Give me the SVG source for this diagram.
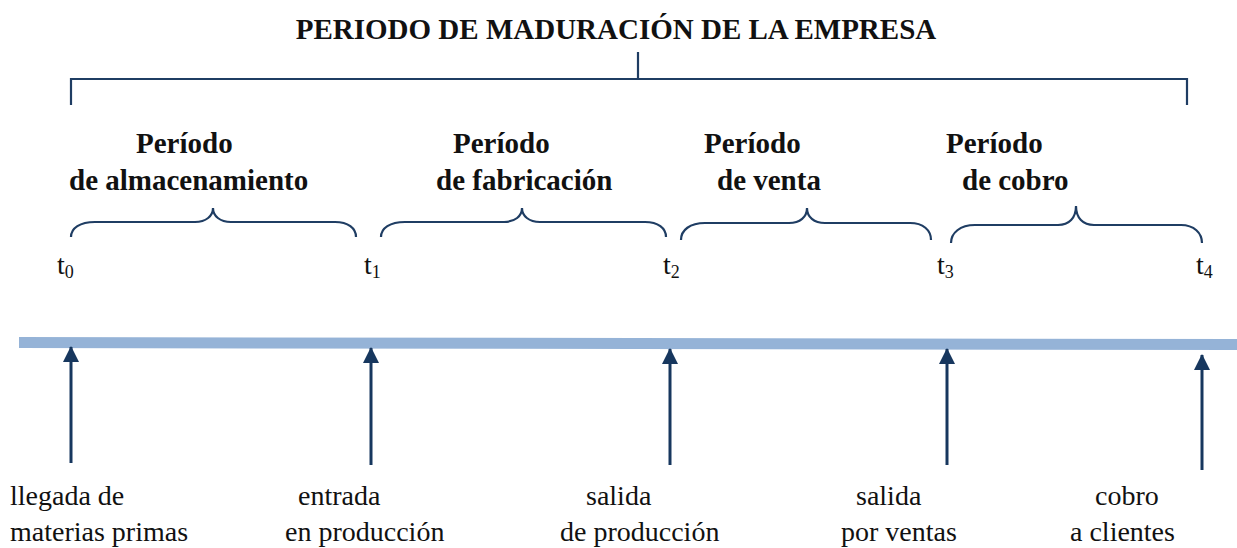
<svg xmlns="http://www.w3.org/2000/svg" width="1237" height="548" viewBox="0 0 1237 548">
<defs>
<style>
.t{font-family:"Liberation Serif","DejaVu Serif",serif;fill:#111;}
.h{font-size:29px;font-weight:bold;}
.b{font-size:29px;font-weight:bold;}
.r{font-size:28px;}
.s{font-size:18px;}
.ln{fill:none;stroke:#1f3d63;stroke-width:2.2;}
.ar{stroke:#17375e;stroke-width:3;fill:none;}
</style>
<marker id="ah" viewBox="0 0 16 16" refX="15" refY="8" markerWidth="16" markerHeight="16" markerUnits="userSpaceOnUse" orient="auto">
<path d="M0,0 L16,8 L0,16 Z" fill="#17375e"/>
</marker>
</defs>
<rect width="1237" height="548" fill="#fff"/>
<g id="title">
<text class="t h" x="616" y="39" text-anchor="middle">PERIODO DE MADURACIÓN DE LA EMPRESA</text>
<path class="ln" d="M71,105 V79 H1187 V105 M638,79 V52"/>
</g>
<g id="timeline">
<polygon points="19,337 1237,339 1237,350 19,348" fill="#95b3d7"/>
</g>
<g id="p1">
<text class="t b" x="136" y="153">Período</text>
<text class="t b" x="69" y="190">de almacenamiento</text>
<path class="ln" d="M71,237 C71,228 80,222 95,222 H195 C206,222 213,216 213,208 C213,216 220,222 231,222 H335 C348,222 356,228 356,237"/>
</g>
<g id="p2">
<text class="t b" x="453" y="153">Período</text>
<text class="t b" x="436" y="190">de fabricación</text>
<path class="ln" d="M381,237 C381,228 390,222 405,222 H504 C515,222 522,216 522,208 C522,216 529,222 540,222 H645 C658,222 666,228 666,237"/>
</g>
<g id="p3">
<text class="t b" x="704" y="153">Período</text>
<text class="t b" x="717" y="190">de venta</text>
<path class="ln" d="M681,240 C681,230 690,223 705,223 H789 C800,223 807,217 807,208 C807,217 814,223 825,223 H910 C923,223 931,230 931,240"/>
</g>
<g id="p4">
<text class="t b" x="946" y="153">Período</text>
<text class="t b" x="962" y="190">de cobro</text>
<path class="ln" d="M951,243 C951,233 960,225 975,225 H1058 C1069,225 1076,218 1076,206 C1076,218 1083,225 1094,225 H1181 C1194,225 1202,233 1202,243"/>
</g>
<g id="ticks">
<text class="t r" x="57" y="274">t<tspan class="s" dy="4">0</tspan></text>
<text class="t r" x="364" y="274">t<tspan class="s" dy="4">1</tspan></text>
<text class="t r" x="663" y="274">t<tspan class="s" dy="4">2</tspan></text>
<text class="t r" x="937" y="274">t<tspan class="s" dy="4">3</tspan></text>
<text class="t r" x="1196" y="274">t<tspan class="s" dy="4">4</tspan></text>
</g>
<g id="connectors">
<line class="ar" x1="71" y1="463" x2="71" y2="347" marker-end="url(#ah)"/>
<line class="ar" x1="371" y1="465" x2="371" y2="348" marker-end="url(#ah)"/>
<line class="ar" x1="670" y1="465" x2="670" y2="349" marker-end="url(#ah)"/>
<line class="ar" x1="947" y1="465" x2="947" y2="349" marker-end="url(#ah)"/>
<line class="ar" x1="1202" y1="470" x2="1202" y2="355" marker-end="url(#ah)"/>
</g>
<g id="e0">
<text class="t r" x="10" y="505">llegada de</text>
<text class="t r" x="10" y="541">materias primas</text>
</g>
<g id="e1">
<text class="t r" x="298" y="505">entrada</text>
<text class="t r" x="285" y="541">en producción</text>
</g>
<g id="e2">
<text class="t r" x="586" y="505">salida</text>
<text class="t r" x="560" y="541">de producción</text>
</g>
<g id="e3">
<text class="t r" x="856" y="505">salida</text>
<text class="t r" x="841" y="541">por ventas</text>
</g>
<g id="e4">
<text class="t r" x="1095" y="505">cobro</text>
<text class="t r" x="1070" y="541">a clientes</text>
</g>
</svg>
